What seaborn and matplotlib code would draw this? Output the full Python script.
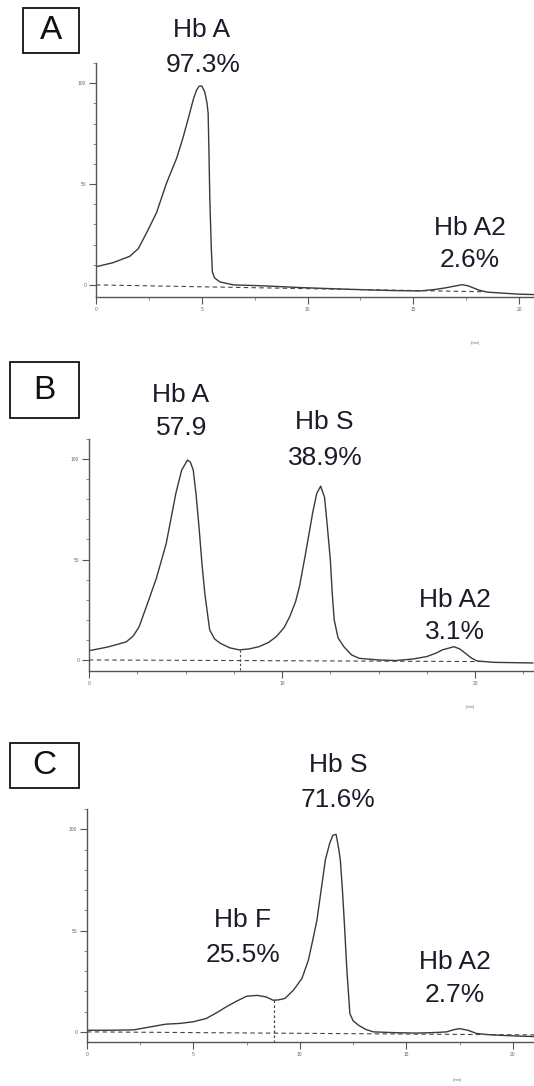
import numpy as np
import pandas as pd
import matplotlib.pyplot as plt
import seaborn as sns
from matplotlib.patches import Rectangle
from matplotlib.ticker import MultipleLocator

sns.set_theme(style="ticks")
plt.rcParams['font.family'] = ['Liberation Sans', 'DejaVu Sans']

# ---- data (time in min, signal %) ----
a_time = [0.0, 0.8, 1.6, 2.0, 2.4, 2.86, 3.33, 3.8, 4.1, 4.4, 4.6, 4.75, 4.87, 5.0,
          5.14, 5.25, 5.3, 5.34, 5.38, 5.45, 5.5, 5.6, 5.85, 6.5, 8.0, 9.6, 12.0,
          14.0, 15.3, 16.0, 16.5, 17.0, 17.3, 17.6, 18.1, 18.5, 20.0, 20.7]
a_signal = [9, 11, 14.2, 18, 26, 35.8, 50.4, 62.5, 72.5, 84, 92, 96.5, 98.5, 98.6,
            95.6, 90, 85, 65, 42, 18, 6.5, 3.5, 1.5, 0, -0.5, -1.3, -2.2,
            -2.8, -3.0, -2.3, -1.5, -0.5, 0.1, -0.5, -2.6, -3.6, -4.6, -4.8]

b_time = [0, 1.0, 1.93, 2.3, 2.6, 3.1, 3.5, 4.0, 4.5, 4.8, 5.1, 5.25, 5.4, 5.55,
          5.7, 5.85, 6.0, 6.25, 6.5, 6.8, 7.3, 7.8, 8.3, 8.8, 9.3, 9.7, 10.1, 10.4,
          10.7, 10.9, 11.2, 11.4, 11.6, 11.8, 12.0, 12.2, 12.35, 12.5, 12.6, 12.7,
          12.9, 13.2, 13.6, 14.0, 15.0, 15.9, 16.8, 17.5, 18.0, 18.3, 18.9, 19.2,
          19.5, 19.8, 20.1, 21.0, 23.0]
b_signal = [4.6, 6.5, 9, 12, 16.6, 30, 41, 58, 83, 94.5, 99.5, 98.5, 94.5, 82,
            66, 48, 33, 15, 10.5, 8.3, 6, 5, 5.5, 6.6, 8.7, 11.6, 16, 21.6,
            29, 36.5, 52, 63, 74, 83, 86.5, 81, 66, 50, 33, 20,
            11, 6.6, 2.5, 0.8, 0, -0.3, 0.5, 1.7, 3.5, 5, 6.6, 5.5,
            3.3, 1, -0.5, -1.2, -1.5]

c_time = [0, 1.2, 2.2, 3.0, 3.7, 4.4, 5.0, 5.6, 6.1, 6.55, 7.0, 7.5, 8.0, 8.4,
          8.75, 9.0, 9.3, 9.7, 10.1, 10.4, 10.6, 10.8, 11.0, 11.2, 11.4, 11.55,
          11.7, 11.8, 11.9, 12.0, 12.1, 12.2, 12.35, 12.5, 12.75, 13.1, 13.45,
          14.5, 15.5, 16.4, 16.9, 17.2, 17.5, 17.9, 18.3, 19.0, 20.3, 21.0]
c_signal = [0.8, 0.8, 1.0, 2.5, 3.8, 4.2, 5, 6.6, 9.5, 12.4, 15, 17.6, 18, 17.3,
            15.6, 15.8, 16.5, 20.6, 26.4, 35.4, 45, 55, 70, 85, 93, 97,
            97.5, 92, 85, 70, 52, 32, 9, 5.5, 3.3, 1.2, 0,
            -0.4, -0.6, -0.3, 0, 1.0, 1.6, 0.8, -0.8, -1.5, -2.1, -2.3]

# baselines (dashed) and peak split markers
a_base_t, a_base_v = [0, 18.3], [0, -3.4]
b_base_t, b_base_v = [0, 20.5], [0, -0.8]
c_base_t, c_base_v = [0, 21.0], [0, -1.5]
b_split_t, b_split_v = 7.8, 5
c_split_t, c_split_v = 8.8, 15.5

# peak labels: (text, x px, y px)
a_labels = [("Hb A", 202, 30), ("97.3%", 203, 65), ("Hb A2", 470, 228), ("2.6%", 470, 260)]
b_labels = [("Hb A", 181, 395), ("57.9", 182, 428), ("Hb S", 324, 422), ("38.9%", 325, 458),
            ("Hb A2", 455, 600), ("3.1%", 455, 632)]
c_labels = [("Hb S", 338, 765), ("71.6%", 338, 800), ("Hb F", 242, 920), ("25.5%", 243, 955),
            ("Hb A2", 455, 962), ("2.7%", 455, 995)]

W, H = 534, 1086
fig = plt.figure(figsize=(W / 100, H / 100), dpi=100)
fig.patch.set_facecolor('white')

LINE = '#3a3a3a'
AXC = '#555555'
TXT = '#1b1b29'


def make_panel(left, bottom, right, top, xlim, ylim, xmajor, xlabels):
    ax = fig.add_axes([left / W, 1 - bottom / H, (right - left) / W, (bottom - top) / H])
    ax.set_facecolor('white')
    ax.set_xlim(*xlim)
    ax.set_ylim(*ylim)
    for s in ['top', 'right']:
        ax.spines[s].set_visible(False)
    for s in ['left', 'bottom']:
        ax.spines[s].set_color(AXC)
        ax.spines[s].set_linewidth(1.0)
    ax.set_yticks([0, 50, 100])
    ax.yaxis.set_minor_locator(MultipleLocator(10))
    ax.set_xticks(xlabels)
    ax.xaxis.set_minor_locator(MultipleLocator(xmajor))
    ax.tick_params(axis='both', which='major', length=5, width=0.8, color=AXC,
                   labelsize=3.5, labelcolor='#666666', pad=2)
    ax.tick_params(axis='both', which='minor', length=2.5, width=0.7, color='#888888')
    ax.grid(False)
    ax.set_xlabel('')
    ax.set_ylabel('')
    return ax


def draw(ax, t, v, bt, bv):
    df = pd.DataFrame({'t': t, 'v': v})
    sns.lineplot(data=df, x='t', y='v', ax=ax, color=LINE, linewidth=1.0,
                 estimator=None, sort=False)
    ax.plot(bt, bv, color='#444444', linestyle=(0, (4, 3)), linewidth=0.8)
    ax.set_xlabel('')
    ax.set_ylabel('')


def label_box(letter, x0, y0, x1, y1):
    fig.add_artist(Rectangle((x0 / W, 1 - y1 / H), (x1 - x0) / W, (y1 - y0) / H,
                             transform=fig.transFigure, fill=False, edgecolor='#111111',
                             linewidth=1.3))
    fig.text((x0 + x1) / 2 / W, 1 - (y0 + y1) / 2 / H, letter, fontsize=24,
             ha='center', va='center', color='#111111')


def peak_texts(labels):
    for txt, x, y in labels:
        fig.text(x / W, 1 - y / H, txt, fontsize=19, ha='center', va='center', color=TXT)


# ---- Panel A ----
axA = make_panel(96, 297, 534, 63, (0, 20.7), (-6, 110), 2.5, [0, 5, 10, 15, 20])
draw(axA, a_time, a_signal, a_base_t, a_base_v)
label_box('A', 23, 8, 79, 53)
peak_texts(a_labels)
fig.text(475 / W, 1 - 343 / H, '(min)', fontsize=3, color='#666666', ha='center', va='center')

# ---- Panel B ----
axB = make_panel(89, 671, 534, 439, (0, 23.05), (-5.5, 110), 2.5, [0, 10, 20])
draw(axB, b_time, b_signal, b_base_t, b_base_v)
axB.plot([b_split_t, b_split_t], [b_split_v, -5.5], color='#444444',
         linestyle=(0, (2, 2)), linewidth=0.8)
label_box('B', 10, 362, 79, 418)
peak_texts(b_labels)
fig.text(470 / W, 1 - 707 / H, '(min)', fontsize=3, color='#666666', ha='center', va='center')

# ---- Panel C ----
axC = make_panel(87, 1042, 534, 809, (0, 21.0), (-5, 110), 2.5, [0, 5, 10, 15, 20])
draw(axC, c_time, c_signal, c_base_t, c_base_v)
axC.plot([c_split_t, c_split_t], [c_split_v, -5], color='#444444',
         linestyle=(0, (2, 2)), linewidth=0.9)
label_box('C', 10, 743, 79, 788)
peak_texts(c_labels)
fig.text(457 / W, 1 - 1080 / H, '(min)', fontsize=3, color='#666666', ha='center', va='center')

fig.savefig('out.png', dpi=100, facecolor='white')
